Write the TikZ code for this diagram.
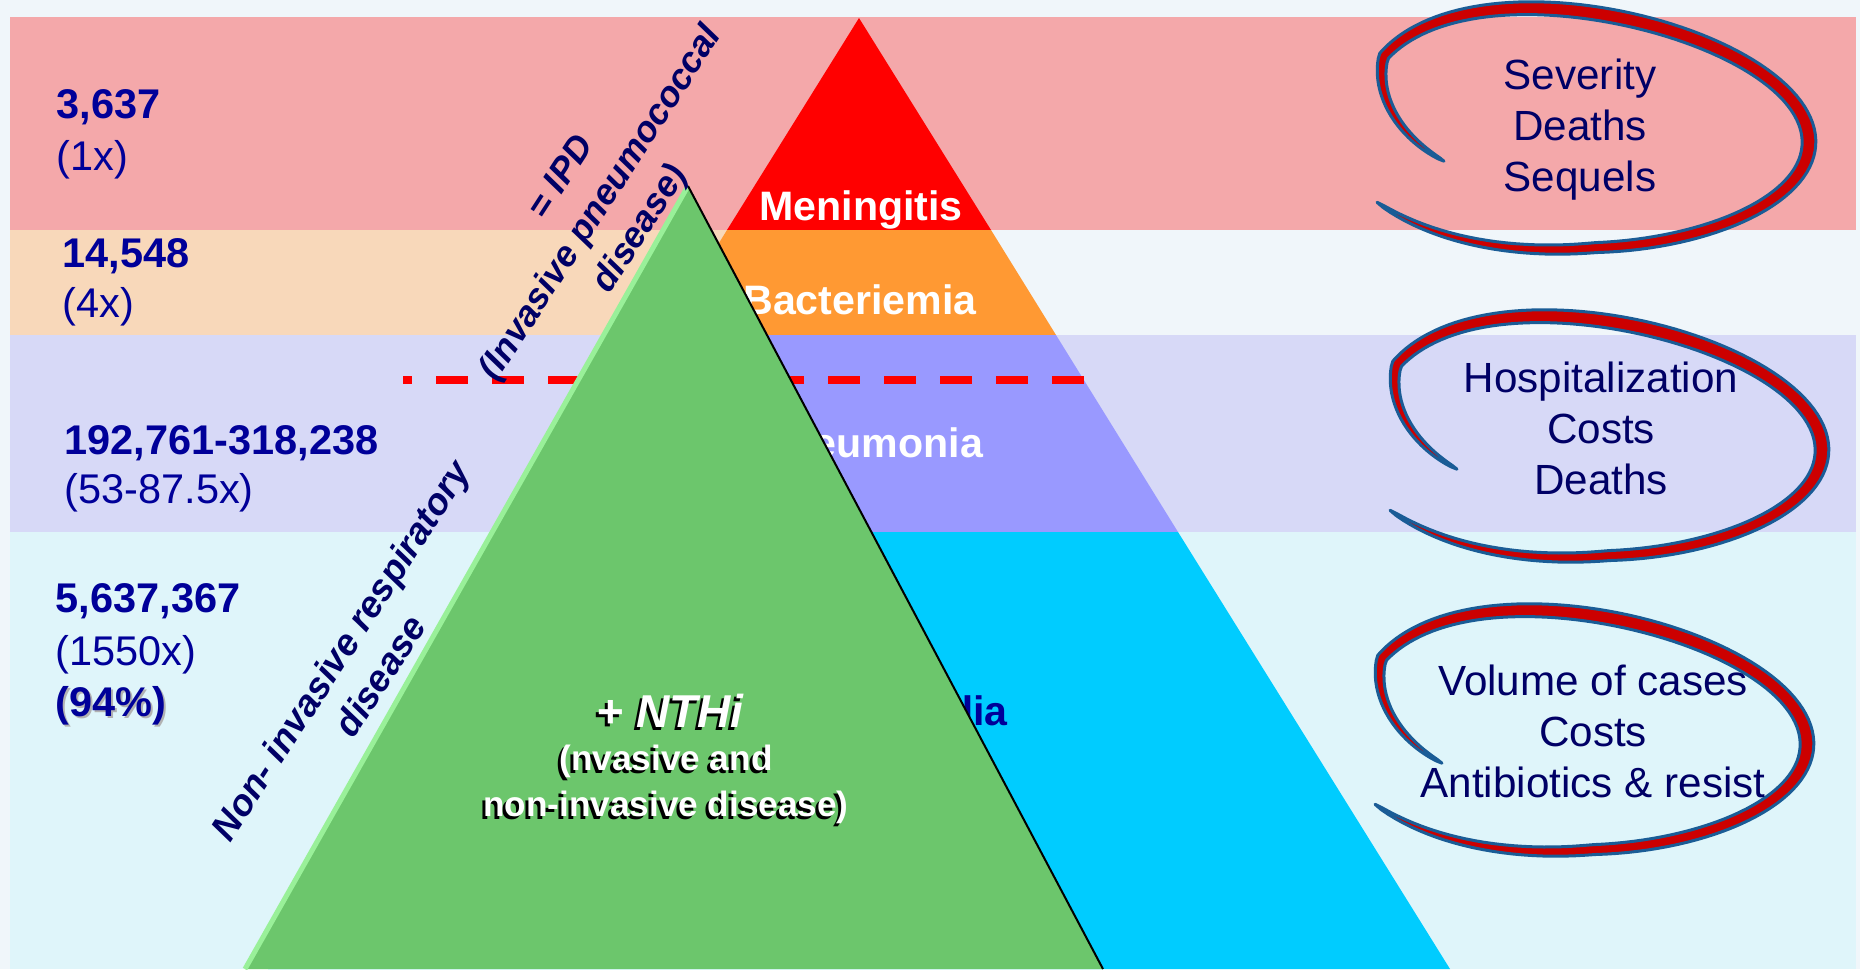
\documentclass[tikz,border=0pt]{standalone}
\usepackage{fontspec}
\setmainfont{Liberation Sans}
\usepackage{xcolor}
\definecolor{bgblue}{HTML}{F0F6FA}
\definecolor{bandpink}{HTML}{F4A8AA}
\definecolor{bandpeach}{HTML}{F8D8BA}
\definecolor{bandlilac}{HTML}{D7D9F7}
\definecolor{bandcyan}{HTML}{DFF5FA}
\definecolor{pyrred}{HTML}{FF0000}
\definecolor{pyrorange}{HTML}{FF9933}
\definecolor{pyrlilac}{HTML}{9999FF}
\definecolor{pyrcyan}{HTML}{00CCFF}
\definecolor{nthigreen}{HTML}{6CC66C}
\definecolor{edgegreen}{HTML}{99F099}
\definecolor{numblue}{HTML}{000099}
\definecolor{darknavy}{HTML}{000066}
\definecolor{swred}{HTML}{CC0000}
\definecolor{swblue}{HTML}{1A5C96}
\tikzstyle{casenum} = [anchor=base west, inner sep=0, text=numblue,
font=\fontsize{11.8}{14}\selectfont\bfseries]
\tikzstyle{casefold} = [anchor=base west, inner sep=0, text=numblue,
font=\fontsize{11.8}{14}\selectfont]
\tikzstyle{burden} = [align=center, inner sep=0, text=darknavy,
font=\fontsize{12}{14.5}\selectfont]

\begin{document}
\begin{tikzpicture}[
        x=0.01cm, y=-0.01cm,
        layerlabel/.style={anchor=base, inner sep=0, text=white, font=\fontsize{11.7}{14}\selectfont\bfseries},
        diaglabel/.style={rotate=57, align=center, inner sep=0, text=darknavy, font=\fontsize{10.2}{13.4}\selectfont\bfseries\itshape},
        nthi/.style={anchor=base, inner sep=0, text=white, font=\fontsize{13.1}{15}\selectfont\bfseries\itshape},
        nthinote/.style={align=center, inner sep=0, text=white, font=\fontsize{10}{13.1}\selectfont\bfseries},
        declare function={
            swr(\t)=1-0.3*max(0,(210-\t)/60)+0.13*max(0,(\t-440)/60);
            swx(\t)=swr(\t)*(224*cos(\t)-30*sin(\t)*sin(\t));
            swy(\t)=swr(\t)*(119*sin(\t)+14*cos(\t));
            swh(\t)=7*sqrt(abs(sin((\t-150)/350*180)));
        },
        swoosh/.pic={
            \filldraw[fill=swred, draw=swblue, line width=0.03cm, line join=round]
                plot[domain=150:500, samples=140, variable=\t] ({swx(\t)+swh(\t)*cos(\t)}, {swy(\t)+swh(\t)*sin(\t)})
                -- plot[domain=500:150, samples=140, variable=\t] ({swx(\t)-swh(\t)*cos(\t)}, {swy(\t)-swh(\t)*sin(\t)})
                -- cycle;
        },
    ]
        \useasboundingbox (0,0) rectangle (1860,969);
        \fill[bgblue] (0,0) rectangle (1860,969);

        % background bands
        \fill[bandpink] (10,17) rectangle (1856,230);
        \fill[bandpeach] (10,230) rectangle (800,335);
        \fill[bandlilac] (10,335) rectangle (1856,532);
        \fill[bandcyan] (10,532) rectangle (1856,969);

        % left column figures
        \node[casenum] (n1) at (56,118) {3,637};
        \node[casefold] (f1) at (56,170) {(1x)};
        \node[casenum] (n2) at (62,267) {14,548};
        \node[casefold] (f2) at (62,317) {(4x)};
        \node[casenum] (n3) at (64,454) {192,761-318,238};
        \node[casefold] (f3) at (64,503) {(53-87.5x)};
        \node[casenum] (n4) at (55,612) {5,637,367};
        \node[casefold] (f4) at (55,665) {(1550x)};
        \node[casenum, text=gray!60] (p4s) at (57,718) {(94\%)};
        \node[casenum] (p4) at (55,716) {(94\%)};

        % pneumococcal pyramid
        \fill[pyrred] (859,18) -- (991,230) -- (727,230) -- cycle;
        \fill[pyrorange] (727,230) -- (991,230) -- (1056,335) -- (662,335) -- cycle;
        \fill[pyrlilac] (662,335) -- (1056,335) -- (1178,532) -- (540,532) -- cycle;
        \fill[pyrcyan] (540,532) -- (1178,532) -- (1450,969) -- (268,969) -- cycle;
        \node[layerlabel] (menin) at (861,220) {Meningitis};
        \node[layerlabel] (bact) at (860,314) {Bacteriemia};
        \node[layerlabel] (pneu) at (872,457) {Pneumonia};
        \node[layerlabel, text=numblue] (otitis) at (890,725) {Otitis media};

        % IPD limit
        \coordinate (ipdR) at (1084,380);
        \coordinate (ipdL) at (403,380);
        \draw[pyrred, line width=0.08cm, dash pattern=on 0.32cm off 0.24cm] (ipdR) -- (ipdL);

        % NTHi triangle
        \coordinate (gtop) at (688,186);
        \coordinate (gleft) at (245,969);
        \coordinate (gright) at (1103,969);
        \fill[nthigreen] (gtop) -- (gright) -- (gleft) -- cycle;
        \draw[edgegreen, line width=0.05cm] (gleft) -- (gtop);
        \draw[black, line width=0.02cm] (gtop) -- (gright);

        \node[nthi, text=black] (nthis) at (667,730) {+ NTHi};
        \node[nthi] (nthi) at (670,727) {+ NTHi};
        \node[nthinote, text=black] (notes) at (663,787) {(nvasive and\\non-invasive disease)};
        \node[nthinote] (note) at (666,784) {(nvasive and\\non-invasive disease)};

        % diagonal labels
        \node[diaglabel] (ipd) at (602,204) {= IPD\\(Invasive pneumococcal\\disease)};
        \node[diaglabel, font=\fontsize{10.5}{13.4}\selectfont\bfseries\itshape] (noninv) at (360,663) {Non- invasive respiratory\\disease};

        % burden loops
        \pic at (1585,128) {swoosh};
        \pic at (1598,436) {swoosh};
        \pic at (1583,730) {swoosh};
        \node[burden] (sev) at (1580,130) {Severity\\Deaths\\Sequels};
        \node[burden] (hosp) at (1601,428) {Hospitalization\\Costs\\Deaths};
        \node[burden] (vol) at (1593,731) {Volume of cases\\Costs\\Antibiotics \& resist};
    \end{tikzpicture}
\end{document}
